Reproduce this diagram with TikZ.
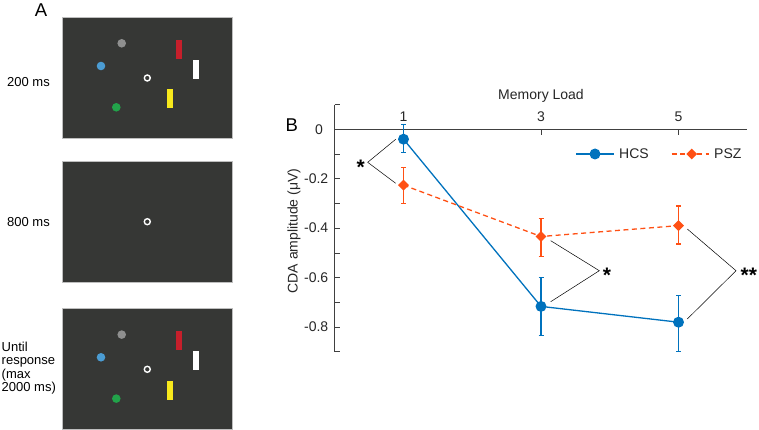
\documentclass[tikz,border=0pt]{standalone}
\usepackage{fontspec}
\setmainfont{Liberation Sans}
\usetikzlibrary{shapes.geometric}
\definecolor{scr}{RGB}{54,55,53}
\definecolor{scrborder}{RGB}{190,190,190}
\definecolor{dgray}{RGB}{143,143,143}
\definecolor{dblue}{RGB}{75,156,211}
\definecolor{dgreen}{RGB}{34,163,74}
\definecolor{dred}{RGB}{198,31,43}
\definecolor{dyellow}{RGB}{247,232,28}
\definecolor{hcs}{RGB}{0,114,189}
\definecolor{psz}{RGB}{255,80,20}
\definecolor{axc}{RGB}{64,64,64}
\begin{document}
\begin{tikzpicture}[x=1pt,y=-1pt,
  screen/.style={fill=scr, draw=scrborder, line width=0.8pt},
  dot/.style={circle, inner sep=0pt, minimum size=8.6pt},
  ring/.style={circle, inner sep=0pt, minimum size=6pt, draw=white, line width=1.4pt, fill=scr},
  bar/.style={inner sep=0pt, minimum width=6.3pt, minimum height=18.8pt},
  lbl/.style={inner sep=0pt, font=\fontsize{13}{13.5}\selectfont},
  panel/.style={inner sep=0pt, font=\fontsize{18.5}{20}\selectfont},
  ptxt/.style={inner sep=0pt, font=\fontsize{14}{16}\selectfont, text=black!85},
  axis/.style={draw=axc, line width=0.6pt},
  hcsline/.style={draw=hcs, line width=1.3pt},
  pszline/.style={draw=psz, line width=1.3pt, dash pattern=on 5pt off 3.5pt},
  hcsmark/.style={circle, fill=hcs, inner sep=0pt, minimum size=11pt},
  pszmark/.style={diamond, fill=psz, inner sep=0pt, minimum width=11pt, minimum height=11pt},
  hcserr/.style={draw=hcs, line width=1.3pt},
  pszerr/.style={draw=psz, line width=1.3pt},
  bracket/.style={draw=black, line width=0.5pt},
  starlbl/.style={inner sep=0pt, font=\fontsize{21}{21}\selectfont\bfseries, anchor=north}
]
\useasboundingbox (0,0) rectangle (759,430);

% ---------- Panel A ----------
\node[panel] (labA) at (41,10) {A};

% screen 1 and 3 (identical stimuli)
\foreach \dy/\nm in {0/s1, 291.3/s3}{
\begin{scope}[shift={(0,\dy)}]
  \draw[screen] (62,17) rectangle (232,138);
  \node[dot, fill=dgray]  (\nm gray)  at (121.7,43.3) {};
  \node[dot, fill=dblue]  (\nm blue)  at (101,66) {};
  \node[dot, fill=dgreen] (\nm green) at (116.3,107.3) {};
  \node[ring] (\nm ring) at (147.3,78) {};
  \node[bar, fill=dred]    (\nm red)    at (178.85,49.35) {};
  \node[bar, fill=white]   (\nm white)  at (195.85,69.2) {};
  \node[bar, fill=dyellow] (\nm yellow) at (170.15,98.8) {};
\end{scope}
}
% screen 2
\draw[screen] (62,161.7) rectangle (232,282.3);
\node[ring] (s2ring) at (147.3,221.7) {};

\node[lbl] (t200) at (28.5,82) {200 ms};
\node[lbl] (t800) at (28.5,221.7) {800 ms};
\node[lbl, anchor=west, align=left] (tuntil) at (1.5,368) {Until\\response\\(max\\2000 ms)};

% ---------- Panel B ----------
\node[panel] (labB) at (291.7,125) {B};
\node[ptxt] (ylab) at (294,231) [rotate=90] {CDA amplitude (μV)};
\node[ptxt] (xlab) at (541,96) {Memory Load};

\begin{scope}[shift={(334.75,129.3)}, x=68.75pt, y=247pt]
  % axes
  \draw[axis] (0,0.1) -- (0,-0.9);
  \foreach \i in {-9,...,1} \draw[axis] (0,\i/10) -- ++(5pt,0);
  \draw[axis] (0,0) -- (6,0);
  \foreach \v in {1,3,5} {
    \draw[axis] (\v,0) -- ++(0,-6pt);
    \node[ptxt] (xt\v) at (\v,0.0498) {\v};
  }
  \node[ptxt, anchor=east] (yt0) at ([xshift=-11.7pt]0,0) {0};
  \foreach \v/\t in {-0.2/2,-0.4/4,-0.6/6,-0.8/8}
    \node[ptxt, anchor=east] (yt\t) at ([xshift=-6.3pt]0,\v) {\v};

  % HCS
  \foreach \x/\lo/\hi in {1/-0.095/0.02, 3/-0.835/-0.6, 5/-0.9/-0.672}{
    \draw[hcserr] (\x,\lo) -- (\x,\hi);
    \draw[hcserr] ([xshift=-2.5pt]\x,\lo) -- ([xshift=2.5pt]\x,\lo);
    \draw[hcserr] ([xshift=-2.5pt]\x,\hi) -- ([xshift=2.5pt]\x,\hi);
  }
  \coordinate (h1) at (1,-0.04);
  \coordinate (h3) at (3,-0.717);
  \coordinate (h5) at (5,-0.781);
  \draw[hcsline] (h1) -- (h3) -- (h5);
  \foreach \n in {h1,h3,h5} \node[hcsmark] (\n m) at (\n) {};

  % PSZ
  \foreach \x/\lo/\hi in {1/-0.3/-0.155, 3/-0.515/-0.362, 5/-0.464/-0.31}{
    \draw[pszerr] (\x,\lo) -- (\x,\hi);
    \draw[pszerr] ([xshift=-2.5pt]\x,\lo) -- ([xshift=2.5pt]\x,\lo);
    \draw[pszerr] ([xshift=-2.5pt]\x,\hi) -- ([xshift=2.5pt]\x,\hi);
  }
  \coordinate (p1) at (1,-0.226);
  \coordinate (p3) at (3,-0.434);
  \coordinate (p5) at (5,-0.39);
  \draw[pszline] (p1) -- (p3) -- (p5);
  \foreach \n in {p1,p3,p5} \node[pszmark] (\n m) at (\n) {};
\end{scope}

% significance brackets
\coordinate (b1a) at (395.7,139.3);
\coordinate (b1v) at (367.7,162.3);
\coordinate (b1b) at (395.7,183.3);
\draw[bracket] (b1a) -- (b1v) -- (b1b);
\node[starlbl] (st1) at (360.7,160) {*};

\coordinate (b2a) at (550.7,240.7);
\coordinate (b2v) at (599.3,270.7);
\coordinate (b2b) at (550.7,301.7);
\draw[bracket] (b2a) -- (b2v) -- (b2b);
\node[starlbl] (st2) at (607,267.4) {*};

\coordinate (b3a) at (687.3,229);
\coordinate (b3v) at (736,270.7);
\coordinate (b3b) at (687.3,319);
\draw[bracket] (b3a) -- (b3v) -- (b3b);
\node[starlbl] (st3) at (748.8,267.4) {**};

% legend
\coordinate (lh1) at (576,154);
\coordinate (lh2) at (614,154);
\draw[hcsline] (lh1) -- (lh2);
\node[hcsmark] (lhm) at (595,154) {};
\node[ptxt, anchor=west] (lht) at (619,154) {HCS};
\coordinate (lp1) at (671.7,154);
\coordinate (lp2) at (709.3,154);
\draw[pszline] (lp1) -- (lp2);
\node[pszmark] (lpm) at (691.7,154) {};
\node[ptxt, anchor=west] (lpt) at (714,154) {PSZ};
\end{tikzpicture}
\end{document}
